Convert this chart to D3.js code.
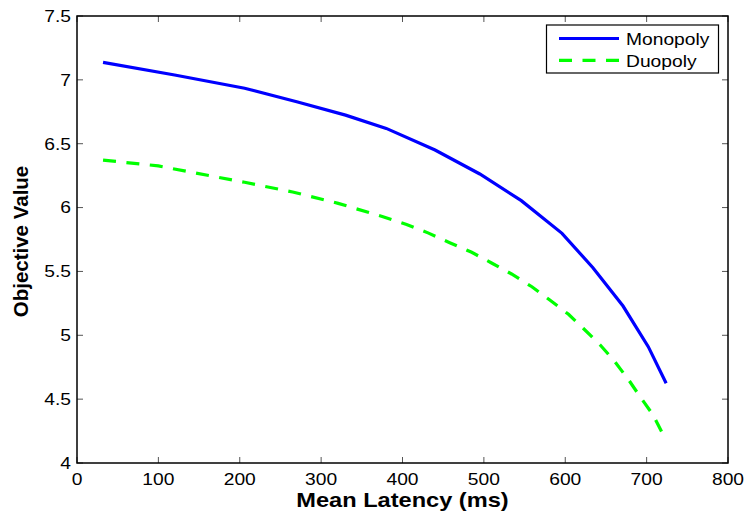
<!DOCTYPE html>
<html><head><meta charset="utf-8">
<script src="https://cdn.jsdelivr.net/npm/d3@7"></script>
<style>body{margin:0;background:#fff}svg{display:block}</style>
</head><body>
<script>
const monoX = [32, 120, 206, 270, 330, 380, 440, 495, 546, 596, 634, 671, 702, 724];
const monoY = [7.137, 7.038, 6.934, 6.829, 6.724, 6.62, 6.451, 6.263, 6.054, 5.798, 5.529, 5.229, 4.911, 4.624];
const duoX = [32, 100, 206, 265, 321, 376, 405, 432, 458, 485, 510, 534, 559, 581, 604, 622, 643, 661, 678, 692, 708, 724];
const duoY = [6.372, 6.326, 6.198, 6.122, 6.033, 5.928, 5.867, 5.80, 5.725, 5.65, 5.564, 5.48, 5.38, 5.276, 5.164, 5.055, 4.924, 4.793, 4.65, 4.519, 4.376, 4.175];
const xTicks = [0, 100, 200, 300, 400, 500, 600, 700, 800];
const yTicks = [4, 4.5, 5, 5.5, 6, 6.5, 7, 7.5];
const seriesNames = ["Monopoly", "Duopoly"];

const W = 745, H = 512;
const L = 77, R = 728, T = 16, B = 463;
const SX = 1.18;
const svg = d3.select("body").append("svg").attr("width", W).attr("height", H);
const x = d3.scaleLinear().domain([0, 800]).range([L, R]);
const y = d3.scaleLinear().domain([4, 7.5]).range([B, T]);
const font = "'Liberation Sans', Arial, Helvetica, sans-serif";

// ticks inward, mirrored
const tl = 6;
const tg = svg.append("g").attr("stroke", "#555").attr("stroke-width", 1);
xTicks.forEach(v => {
  tg.append("line").attr("x1", x(v)).attr("x2", x(v)).attr("y1", B).attr("y2", B - tl);
  tg.append("line").attr("x1", x(v)).attr("x2", x(v)).attr("y1", T).attr("y2", T + tl);
});
yTicks.forEach(v => {
  tg.append("line").attr("y1", y(v)).attr("y2", y(v)).attr("x1", L).attr("x2", L + tl);
  tg.append("line").attr("y1", y(v)).attr("y2", y(v)).attr("x1", R).attr("x2", R - tl);
});
svg.append("rect").attr("x", L).attr("y", T).attr("width", R - L).attr("height", B - T)
  .attr("fill", "none").attr("stroke", "#000").attr("stroke-width", 1.5);

svg.append("g").selectAll("text").data(xTicks).join("text")
  .attr("transform", d => `translate(${x(d)},485) scale(${SX},1)`).attr("text-anchor", "middle")
  .attr("font-family", font).attr("font-size", 16.3).text(d => d);
svg.append("g").selectAll("text").data(yTicks).join("text")
  .attr("transform", d => `translate(71,${y(d) + 5.8}) scale(${SX},1)`).attr("text-anchor", "end")
  .attr("font-family", font).attr("font-size", 16.3).text(d => d);

svg.append("text").attr("transform", `translate(${x(400)},507) scale(${SX},1)`).attr("text-anchor", "middle")
  .attr("font-family", font).attr("font-size", 20).attr("font-weight", "bold").text("Mean Latency (ms)");
svg.append("text").attr("transform", `translate(28,${(T + B) / 2 + 2}) rotate(-90)`).attr("text-anchor", "middle")
  .attr("font-family", font).attr("font-size", 20.5).attr("font-weight", "bold").text("Objective Value");

const line = d3.line().x(d => x(d[0])).y(d => y(d[1]));
const mono = monoX.map((v, i) => [v, monoY[i]]);
const duo = duoX.map((v, i) => [v, duoY[i]]);
svg.append("path").attr("d", line(duo)).attr("fill", "none").attr("stroke", "#00ff00")
  .attr("stroke-width", 3.2).attr("stroke-dasharray", "13,10.5");
svg.append("path").attr("d", line(mono)).attr("fill", "none").attr("stroke", "#0000ff")
  .attr("stroke-width", 3.2);

// legend
const lg = svg.append("g");
lg.append("rect").attr("x", 546.5).attr("y", 25).attr("width", 172).attr("height", 48)
  .attr("fill", "#fff").attr("stroke", "#000").attr("stroke-width", 1.2);
lg.append("line").attr("x1", 559).attr("x2", 619).attr("y1", 38.5).attr("y2", 38.5)
  .attr("stroke", "#0000ff").attr("stroke-width", 3.2);
lg.append("line").attr("x1", 559).attr("x2", 619).attr("y1", 60.3).attr("y2", 60.3)
  .attr("stroke", "#00ff00").attr("stroke-width", 3.2).attr("stroke-dasharray", "13,10.5");
lg.selectAll("text").data(seriesNames).join("text")
  .attr("transform", (d, i) => `translate(626,${45 + i * 21.7}) scale(${SX},1)`)
  .attr("font-family", font).attr("font-size", 16.3).text(d => d);
</script>
</body></html>
